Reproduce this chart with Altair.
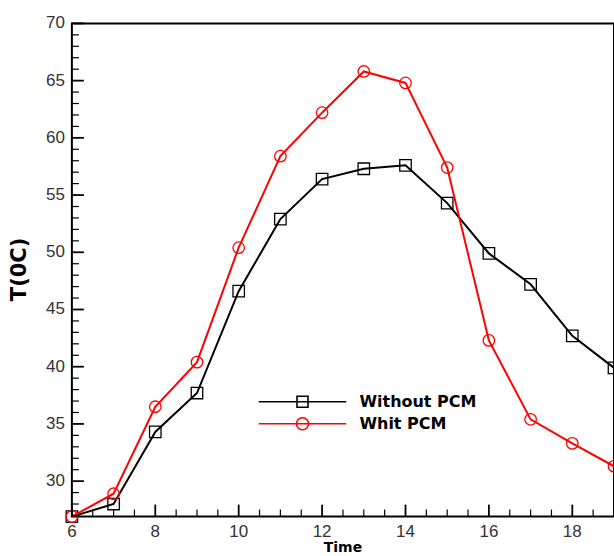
import altair as alt
import pandas as pd

# ---- data ----
time = [6, 7, 8, 9, 10, 11, 12, 13, 14, 15, 16, 17, 18, 19]
without_pcm = [26.9, 28.0, 34.3, 37.7, 46.6, 52.9, 56.4, 57.3, 57.6, 54.3, 49.9, 47.2, 42.7, 39.9]
whit_pcm = [26.9, 28.9, 36.5, 40.4, 50.4, 58.4, 62.2, 65.8, 64.8, 57.4, 42.3, 35.4, 33.3, 31.3]
series_names = ["Without PCM", "Whit PCM"]
series_colors = ["black", "red"]
x_title = "Time"
y_title = "T(0C)"

x_domain = [6, 19]
y_domain = [26.9, 70]
x_major = [6, 8, 10, 12, 14, 16, 18]
x_minor = [6.5, 7, 7.5, 8.5, 9, 9.5, 10.5, 11, 11.5, 12.5, 13, 13.5,
           14.5, 15, 15.5, 16.5, 17, 17.5, 18.5]
y_major = [30, 35, 40, 45, 50, 55, 60, 65, 70]
y_minor = [v for v in range(27, 70) if v % 5 != 0]

df = pd.DataFrame({
    "time": time * 2,
    "temp": without_pcm + whit_pcm,
    "series": [series_names[0]] * len(time) + [series_names[1]] * len(time),
})

W, H = 543, 494
LBL_FONT = "Liberation Sans"
BOLD_FONT = "DejaVu Sans"

xs = alt.Scale(domain=x_domain, nice=False, zero=False)
ys = alt.Scale(domain=y_domain, nice=False, zero=False)


def X(field=None, datum=None):
    if datum is not None:
        return alt.X(datum=datum, type="quantitative", scale=xs, axis=None)
    return alt.X(field, type="quantitative", scale=xs, axis=None)


def Y(field=None, datum=None):
    if datum is not None:
        return alt.Y(datum=datum, type="quantitative", scale=ys, axis=None)
    return alt.Y(field, type="quantitative", scale=ys, axis=None)


# legend symbols: line + marker (custom paths, unit = half marker side)
sq_path = "M-7.96,0H7.96M-1,-1H1V1H-1Z"
ci_path = "M-7.96,0H7.96M1.1,0A1.1,1.1,0,1,1,-1.1,0A1.1,1.1,0,1,1,1.1,0Z"


def legend(path, ly):
    return alt.Legend(
        orient="none", legendX=223, legendY=ly, title=None,
        symbolType=path, symbolSize=121, symbolStrokeWidth=1.6,
        symbolFillColor="transparent",
        labelFont=BOLD_FONT, labelFontSize=16, labelFontWeight="bold",
        labelColor="black", labelOffset=49, padding=0,
    )


black = alt.Chart(df).transform_filter(alt.datum.series == series_names[0])
red = alt.Chart(df).transform_filter(alt.datum.series == series_names[1])

l1 = black.mark_line(strokeWidth=2).encode(
    x=X("time"), y=Y("temp"),
    color=alt.Color("series:N", scale=alt.Scale(domain=[series_names[0]], range=[series_colors[0]]),
                    legend=legend(sq_path, 371)),
)
l2 = black.mark_point(shape="square", size=132, strokeWidth=1.3, color=series_colors[0],
                      filled=False, opacity=1).encode(x=X("time"), y=Y("temp"))
l3 = red.mark_line(strokeWidth=2).encode(
    x=X("time"), y=Y("temp"),
    color=alt.Color("series:N", scale=alt.Scale(domain=[series_names[1]], range=[series_colors[1]]),
                    legend=legend(ci_path, 393)),
)
l4 = red.mark_point(shape="circle", size=132, strokeWidth=1.3, color=series_colors[1],
                    filled=False, opacity=1).encode(x=X("time"), y=Y("temp"))

# tick labels as text through the scales
x_labels = alt.Chart(pd.DataFrame({"lx": x_major})).mark_text(
    font=LBL_FONT, fontSize=17, color="#333", align="center", baseline="top", dy=7
).encode(x=X("lx"), y=Y(datum=y_domain[0]), text=alt.Text("lx:Q"))
y_labels = alt.Chart(pd.DataFrame({"ly": y_major})).mark_text(
    font=LBL_FONT, fontSize=17, color="#333", align="right", baseline="middle", dx=-7
).encode(y=Y("ly"), x=X(datum=x_domain[0]), text=alt.Text("ly:Q"))

# axis titles
title_df = pd.DataFrame({"k": [0]})
x_title_mark = alt.Chart(title_df).mark_text(
    font=BOLD_FONT, fontSize=14, fontWeight="bold", color="black",
    align="center", baseline="middle", dy=31, text=x_title
).encode(x=X(datum=12.5), y=Y(datum=y_domain[0]))
y_title_mark = alt.Chart(title_df).mark_text(
    font=BOLD_FONT, fontSize=21, fontWeight="bold", color="black",
    align="center", baseline="middle", angle=270, xOffset=-52, text=y_title
).encode(x=X(datum=x_domain[0]), y=Y(datum=48.5))


# inward tick marks along the bottom and left frame, positioned by the scales
def x_ticks(values, size, thick):
    return alt.Chart(pd.DataFrame({"tx": values})).mark_tick(
        orient="vertical", size=size, thickness=thick, color="black",
        opacity=1, yOffset=-size / 2).encode(x=X("tx"), y=Y(datum=y_domain[0]))


def y_ticks(values, size, thick):
    return alt.Chart(pd.DataFrame({"ty": values})).mark_tick(
        orient="horizontal", size=size, thickness=thick, color="black",
        opacity=1, xOffset=size / 2).encode(y=Y("ty"), x=X(datum=x_domain[0]))


ticks = [x_ticks(x_major, 12, 1.8), x_ticks(x_minor, 7, 1.2),
         y_ticks(y_major, 12, 1.8), y_ticks(y_minor, 7, 1.2)]

chart = alt.layer(
    x_labels, y_labels, x_title_mark, y_title_mark, l1, l2, l3, l4, *ticks
).resolve_scale(
    color="independent"
).properties(
    width=W, height=H,
    autosize=alt.AutoSizeParams(type="none"),
    padding={"left": 72, "top": 23, "right": 0, "bottom": 39},
    background="white",
).configure_view(stroke="black", strokeWidth=2)

chart.save("out.html", embed_options={"renderer": "svg", "actions": False})
